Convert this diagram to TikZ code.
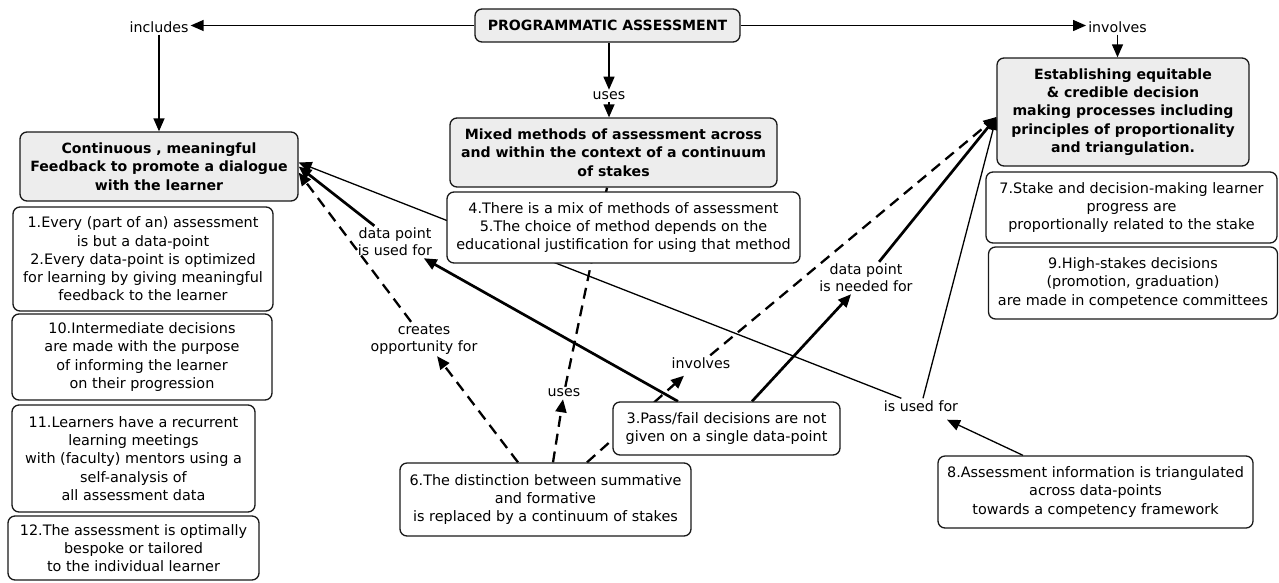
\documentclass[tikz,border=0pt]{standalone}
\usepackage{fontspec}
\setmainfont{DejaVu Sans}
\usetikzlibrary{arrows.meta,calc}
\pgfdeclarelayer{bg}
\pgfsetlayers{bg,main}
\begin{document}
\begin{tikzpicture}[x=1pt,y=-1pt,
  every node/.style={font=\fontsize{14.4}{18.3}\selectfont, align=center, inner sep=0pt},
  box/.style={draw=black!90, line width=1.3pt, rounded corners=7pt, fill=white},
  mainbox/.style={box, fill=black!7, font=\fontsize{14.1}{18.3}\selectfont\bfseries},
  lbl/.style={inner sep=2pt, font=\fontsize{14.2}{17}\selectfont},
  arr/.style={-{Triangle[length=13pt,width=11pt]}},
  thinc/.style={arr, line width=1.3pt},
  thickc/.style={arr, line width=2.7pt},
  dashc/.style={arr, line width=2.3pt, dash pattern=on 11pt off 7pt},
]
\useasboundingbox (0,0) rectangle (1279,582);

% main concept boxes
\node[mainbox, minimum width=265pt, minimum height=33pt] (pa) at (607.5,25.5) {PROGRAMMATIC ASSESSMENT};
\node[mainbox, minimum width=278pt, minimum height=69pt] (cont) at (159,166.5) {Continuous , meaningful\\Feedback to promote a dialogue\\with the learner};
\node[mainbox, minimum width=327pt, minimum height=69pt] (mixed) at (613.5,152.5) {Mixed methods of assessment across\\and within the context of a continuum\\of stakes};
\node[mainbox, minimum width=252pt, minimum height=108pt] (est) at (1123,112) {Establishing equitable\\\& credible decision\\making processes including\\principles of proportionality\\and triangulation.};

% statement boxes
\node[box, minimum width=260pt, minimum height=104pt] (b12) at (143,259) {1.Every (part of an) assessment\\is but a data-point\\2.Every data-point is optimized\\for learning by giving meaningful\\feedback to the learner};
\node[box, minimum width=260pt, minimum height=86pt] (b10) at (142,357) {10.Intermediate decisions\\are made with the purpose\\of informing the learner\\on their progression};
\node[box, minimum width=243pt, minimum height=107pt] (b11) at (133.5,458.5) {11.Learners have a recurrent\\learning meetings\\with (faculty) mentors using a\\self-analysis of\\all assessment data};
\node[box, minimum width=251pt, minimum height=64pt] (b12x) at (133.5,548) {12.The assessment is optimally\\bespoke or tailored\\to the individual learner};
\node[box, minimum width=353pt, minimum height=71pt] (b45) at (623.5,227.5) {4.There is a mix of methods of assessment\\5.The choice of method depends on the\\educational justification for using that method};
\node[box, minimum width=291pt, minimum height=71pt] (b7) at (1131.5,207.5) {7.Stake and decision-making learner\\progress are\\proportionally related to the stake};
\node[box, minimum width=289pt, minimum height=72pt] (b9) at (1133,283) {9.High-stakes decisions\\(promotion, graduation)\\are made in competence committees};
\node[box, minimum width=227pt, minimum height=53pt] (b3) at (726.5,428.5) {3.Pass/fail decisions are not\\given on a single data-point};
\node[box, minimum width=291pt, minimum height=73pt] (b6) at (545.5,499.5) {6.The distinction between summative\\and formative\\is replaced by a continuum of stakes};
\node[box, minimum width=315pt, minimum height=72pt] (b8) at (1095.5,492) {8.Assessment information is triangulated\\across data-points\\towards a competency framework};

% linking phrases
\node[lbl] (inc) at (159,27) {includes};
\node[lbl] (inv) at (1117.5,27) {involves};
\node[lbl] (use) at (609,96) {uses};
\node[lbl] (dpu) at (395,242) {data point\\is used for};
\node[lbl] (cr) at (424,339) {creates\\opportunity for};
\node[lbl] (us2) at (564,393) {uses};
\node[lbl] (iv2) at (701,363) {involves};
\node[lbl] (dpn) at (866,278) {data point\\is needed for};
\node[lbl] (iu) at (921,406) {is used for};

\begin{pgfonlayer}{bg}
% top connectors
\draw[thinc] (pa.west) -- (pa.west -| inc.east);
\draw[thinc] (inc) -- (cont);
\draw[thinc] (pa.east) -- (pa.east -| inv.west);
\draw[thinc] (inv.south) -- (inv.south |- est.north);
\draw[thinc] (pa.south -| use) -- (use.north);
\draw[thinc] (use.south) -- (use.south |- mixed.north);

% to the feedback box
\draw[thickc] ([xshift=-48.5pt]b3.north) -- (dpu);
\draw[thickc] (dpu) -- (cont.east);
\draw[dashc] ([xshift=-27.5pt]b6.north) -- (cr);
\draw[dashc] (cr) -- ([yshift=-6pt]cont.east);

% uses (mixed methods)
\draw[dashc] ([xshift=7.5pt]b6.north) -- (us2);
\draw[dashc, -] (us2) -- ([xshift=-6.5pt]mixed.south);

% to the decision box
\draw[dashc] ([xshift=41.5pt]b6.north) -- ([xshift=-17pt,yshift=-5pt]iv2.south);
\draw[dashc] (iv2) -- ([yshift=-5pt]est.west);
\draw[thickc] ([xshift=25.5pt]b3.north) -- (dpn);
\draw[thickc] (dpn) -- ([yshift=-5pt]est.west);
\draw[thinc] ([xshift=-72.5pt]b8.north) -- ([xshift=26pt,yshift=-6pt]iu.south);
\draw[thinc] (iu) -- ([yshift=-5pt]est.west);
\draw[thinc] (iu) -- ([yshift=4pt]cont.east);
\end{pgfonlayer}
\end{tikzpicture}
\end{document}
